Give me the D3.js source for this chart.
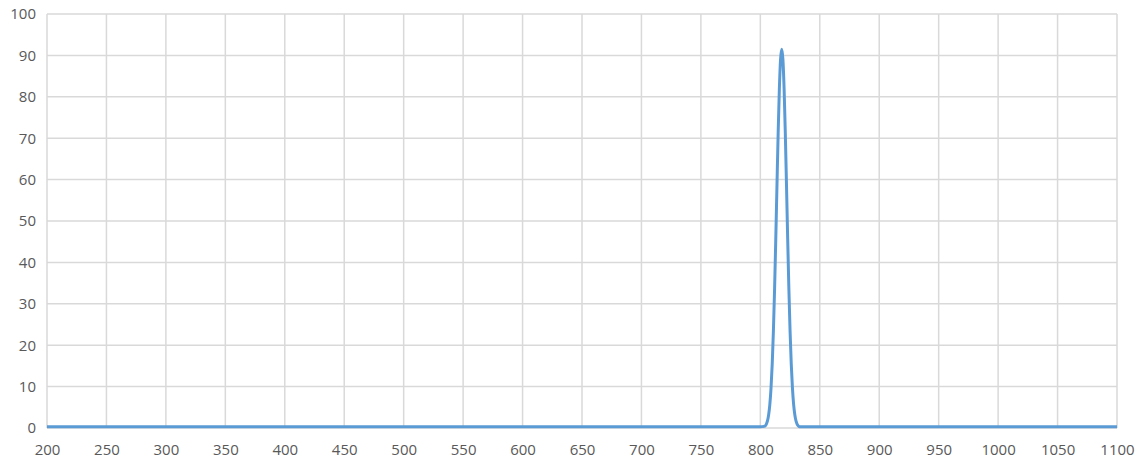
<!DOCTYPE html>
<html>
<head>
<meta charset="utf-8">
<script src="https://cdn.jsdelivr.net/npm/d3@7"></script>
<style>
  body { margin: 0; background: #fff; }
  svg text { font-family: "Open Sans", "Noto Sans", sans-serif; fill: #595959; }
</style>
</head>
<body>
<svg id="chart" width="1137" height="462"></svg>
<script>
// wavelength (nm) and transmission (%)
const wavelengths = [200, 300, 400, 500, 600, 700, 780, 800, 803, 804, 805, 806, 807, 808, 809, 810,
  811, 812, 813, 814, 815, 816, 817, 818, 819, 820, 821, 822, 823, 824, 825, 826, 827, 828,
  829, 830, 831, 832, 833, 840, 900, 1000, 1100];
const transmission = [0.3, 0.3, 0.3, 0.3, 0.3, 0.3, 0.3, 0.3, 0.4, 0.5, 0.9, 1.7, 3.2, 5.7, 9.7, 15.5,
  23.5, 33.7, 45.8, 58.7, 71.3, 81.9, 89.0, 91.5, 89.0, 81.9, 71.3, 58.7, 45.8, 33.7, 23.5, 15.5,
  9.7, 5.7, 3.2, 1.7, 0.9, 0.5, 0.3, 0.3, 0.3, 0.3, 0.3];
const xTicks = d3.range(200, 1101, 50);
const yTicks = d3.range(0, 101, 10);

const margin = { top: 14, right: 20, bottom: 34, left: 47 },
      width = 1137 - margin.left - margin.right,
      height = 462 - margin.top - margin.bottom;

const svg = d3.select("#chart")
  .append("g")
  .attr("transform", "translate(" + margin.left + "," + margin.top + ")");

const x = d3.scaleLinear().domain([200, 1100]).range([0, width]);
const y = d3.scaleLinear().domain([0, 100]).range([height, 0]);

// grid
svg.append("g")
  .selectAll("line")
  .data(xTicks)
  .enter().append("line")
    .attr("x1", d => x(d)).attr("x2", d => x(d))
    .attr("y1", 0).attr("y2", height)
    .attr("stroke", "#d9d9d9").attr("stroke-width", 1.5);

svg.append("g")
  .selectAll("line")
  .data(yTicks)
  .enter().append("line")
    .attr("x1", 0).attr("x2", width)
    .attr("y1", d => y(d)).attr("y2", d => y(d))
    .attr("stroke", "#d9d9d9").attr("stroke-width", 1.5);

// axes (labels only)
const xAxis = svg.append("g")
  .attr("transform", `translate(0, ${height})`)
  .call(d3.axisBottom(x).tickValues(xTicks).tickSize(0).tickPadding(16).tickFormat(d3.format("d")));
xAxis.select(".domain").remove();
xAxis.selectAll("text").style("font-size", "15px");

const yAxis = svg.append("g")
  .call(d3.axisLeft(y).tickValues(yTicks).tickSize(0).tickPadding(11).tickFormat(d3.format("d")));
yAxis.select(".domain").remove();
yAxis.selectAll("text").style("font-size", "15px");

// curve
const points = wavelengths.map((w, i) => [w, transmission[i]]);
svg.append("path")
  .datum(points)
  .attr("fill", "none")
  .attr("stroke", "#5b9bd5")
  .attr("stroke-width", 3)
  .attr("stroke-linejoin", "round")
  .attr("d", d3.line().x(d => x(d[0])).y(d => y(d[1])).curve(d3.curveMonotoneX));
</script>
</body>
</html>
